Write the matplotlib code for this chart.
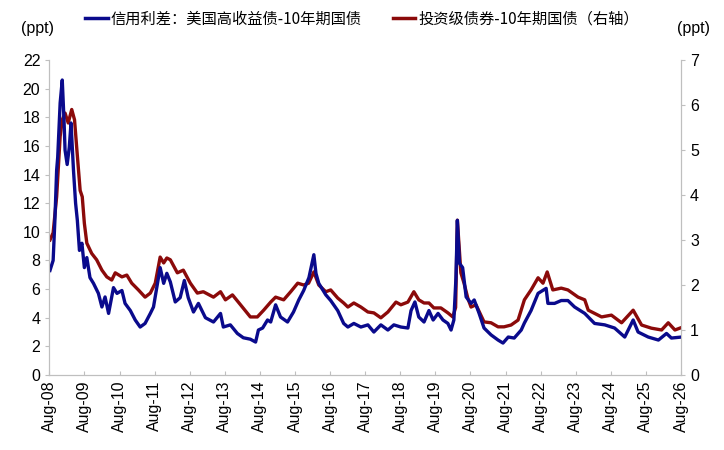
import numpy as np
import matplotlib
matplotlib.use("Agg")
from matplotlib import pyplot as plt
from matplotlib.lines import Line2D

plt.rcParams['font.family'] = ['Liberation Sans', 'Noto Sans CJK SC', 'DejaVu Sans']

# 高收益债利差 (左轴, ppt): 时间(年) / 数值
hy_t = [2008.60, 2008.69, 2008.74, 2008.79, 2008.82, 2008.89, 2008.95, 2009.00, 2009.03,
        2009.09, 2009.15, 2009.20, 2009.27, 2009.33, 2009.38, 2009.44, 2009.51, 2009.58,
        2009.65, 2009.74, 2009.84, 2009.98, 2010.08, 2010.17, 2010.27, 2010.41, 2010.51,
        2010.65, 2010.74, 2010.89, 2011.03, 2011.17, 2011.31, 2011.46, 2011.55, 2011.74,
        2011.84, 2011.93, 2012.03, 2012.17, 2012.31, 2012.43, 2012.54, 2012.69, 2012.83,
        2013.03, 2013.26, 2013.46, 2013.54, 2013.74, 2013.94, 2014.11, 2014.31, 2014.46,
        2014.54, 2014.66, 2014.80, 2014.89, 2015.03, 2015.17, 2015.37, 2015.54, 2015.69,
        2015.83, 2015.98, 2016.12, 2016.18, 2016.26, 2016.46, 2016.60, 2016.80, 2016.97,
        2017.09, 2017.26, 2017.46, 2017.66, 2017.83, 2018.03, 2018.23, 2018.40, 2018.60,
        2018.80, 2018.89, 2019.00, 2019.11, 2019.26, 2019.40, 2019.52, 2019.66, 2019.80,
        2019.94, 2020.03, 2020.11, 2020.17, 2020.21, 2020.27, 2020.36, 2020.46, 2020.60,
        2020.69, 2020.83, 2020.97, 2021.17, 2021.37, 2021.51, 2021.66, 2021.83, 2022.03,
        2022.12, 2022.31, 2022.51, 2022.74, 2022.79, 2022.98, 2023.17, 2023.36, 2023.55,
        2023.84, 2024.12, 2024.41, 2024.69, 2024.98, 2025.22, 2025.36, 2025.65, 2025.94,
        2026.17, 2026.31, 2026.60]
hy_v = [7.3, 8.0, 10.8, 14.3, 15.2, 19.0, 20.6, 17.8, 15.7,
        14.7, 15.9, 17.6, 14.3, 12.0, 10.8, 8.7, 9.2, 7.5,
        8.2, 6.8, 6.4, 5.7, 4.75, 5.45, 4.3, 6.1, 5.7,
        5.9, 5.0, 4.5, 3.84, 3.35, 3.6, 4.3, 4.75, 7.5,
        6.4, 7.1, 6.5, 5.1, 5.4, 6.6, 5.4, 4.4, 5.0,
        4.0, 3.7, 4.3, 3.35, 3.5, 2.9, 2.6, 2.5, 2.3,
        3.14, 3.28, 3.84, 3.7, 4.9, 4.05, 3.7, 4.4, 5.24,
        5.9, 6.8, 8.4, 7.1, 6.4, 5.6, 5.2, 4.5, 3.6,
        3.35, 3.6, 3.35, 3.5, 3.0, 3.5, 3.14, 3.5, 3.35,
        3.28, 4.5, 5.1, 4.05, 3.7, 4.5, 3.84, 4.3, 3.84,
        3.6, 3.14, 3.84, 6.8, 10.8, 7.8, 7.5, 5.45, 5.0,
        5.24, 4.3, 3.28, 2.8, 2.44, 2.23, 2.65, 2.58, 3.14,
        3.63, 4.5, 5.7, 6.05, 5.0, 5.0, 5.2, 5.2, 4.75,
        4.3, 3.6, 3.5, 3.28, 2.65, 3.84, 3.0, 2.65, 2.44,
        2.9, 2.58, 2.65]

# 投资级债券利差 (右轴, ppt)
ig_t = [2008.60, 2008.69, 2008.79, 2008.89, 2008.95, 2009.03, 2009.12, 2009.22, 2009.30,
        2009.36, 2009.46, 2009.52, 2009.58, 2009.65, 2009.79, 2009.93, 2010.08, 2010.22,
        2010.36, 2010.46, 2010.65, 2010.79, 2010.93, 2011.12, 2011.31, 2011.46, 2011.60,
        2011.74, 2011.84, 2011.93, 2012.03, 2012.23, 2012.40, 2012.60, 2012.80, 2012.97,
        2013.26, 2013.46, 2013.60, 2013.80, 2014.03, 2014.31, 2014.51, 2014.69, 2014.89,
        2015.03, 2015.26, 2015.46, 2015.66, 2015.83, 2015.97, 2016.12, 2016.26, 2016.46,
        2016.60, 2016.80, 2016.97, 2017.09, 2017.26, 2017.46, 2017.66, 2017.83, 2018.03,
        2018.23, 2018.46, 2018.60, 2018.80, 2018.97, 2019.11, 2019.26, 2019.40, 2019.54,
        2019.74, 2019.94, 2020.08, 2020.16, 2020.21, 2020.31, 2020.40, 2020.51, 2020.60,
        2020.74, 2020.97, 2021.17, 2021.37, 2021.54, 2021.74, 2021.94, 2022.12, 2022.31,
        2022.51, 2022.65, 2022.77, 2022.93, 2023.17, 2023.36, 2023.65, 2023.84, 2023.94,
        2024.32, 2024.60, 2024.89, 2025.22, 2025.46, 2025.74, 2026.03, 2026.22, 2026.41,
        2026.65]
ig_v = [3.0, 3.16, 3.96, 5.3, 5.67, 5.82, 5.6, 5.9, 5.67,
        5.07, 4.1, 3.96, 3.37, 2.93, 2.7, 2.56, 2.33, 2.18,
        2.11, 2.27, 2.18, 2.22, 2.04, 1.89, 1.73, 1.82, 2.04,
        2.62, 2.49, 2.6, 2.56, 2.27, 2.33, 2.04, 1.82, 1.85,
        1.73, 1.85, 1.67, 1.78, 1.56, 1.29, 1.29, 1.44, 1.62,
        1.73, 1.67, 1.85, 2.04, 2.0, 2.04, 2.29, 2.0, 1.85,
        1.89, 1.71, 1.6, 1.51, 1.6, 1.51, 1.4, 1.38, 1.27,
        1.4, 1.62, 1.56, 1.62, 1.85, 1.67, 1.6, 1.6, 1.49,
        1.49, 1.38, 1.29, 1.5, 3.44, 2.27, 2.04, 1.7, 1.51,
        1.56, 1.18, 1.16, 1.07, 1.07, 1.11, 1.22, 1.67, 1.89,
        2.16, 2.04, 2.29, 1.89, 1.93, 1.89, 1.73, 1.67, 1.44,
        1.29, 1.33, 1.16, 1.44, 1.11, 1.04, 1.0, 1.16, 1.0,
        1.07]

tick_years = list(range(2008, 2027))
tick_labels = ["Aug-%02d" % (y % 100) for y in tick_years]

hy_label = "信用利差：美国高收益债-10年期国债"
ig_label = "投资级债券-10年期国债（右轴）"

blue = "#0A0A8C"
red = "#8B0A0A"
grey = "#BFBFBF"

fig = plt.figure(figsize=(7.24, 4.5), dpi=100)
ax = fig.add_axes([0.0682, 0.1667, 0.8724, 0.7])
ax2 = ax.twinx()

ax.plot(np.array(hy_t), hy_v, color=blue, lw=2.4, solid_joinstyle='round')
ax2.plot(np.array(ig_t), ig_v, color=red, lw=2.4, solid_joinstyle='round')
ax.set_zorder(ax2.get_zorder() + 1)
ax.patch.set_visible(False)

ax.set_xlim(2008.583, 2026.583)
ax.set_ylim(0, 22)
ax2.set_ylim(0, 7)
ax.set_yticks(range(0, 23, 2))
ax2.set_yticks(range(0, 8))
ax.set_xticks([y + 0.583 for y in tick_years])
ax.set_xticklabels(tick_labels, rotation=90, fontsize=11.5)

for a in (ax, ax2):
    a.spines['top'].set_visible(False)
    for s in ('left', 'right', 'bottom'):
        a.spines[s].set_color(grey)
    a.tick_params(axis='y', colors=grey, labelcolor='black', labelsize=11.5, length=3)
ax.tick_params(axis='x', direction='in', colors=grey, labelcolor='black', length=3, pad=4)

fig.text(0.029, 0.937, "(ppt)", fontsize=11.5, va='center', ha='left')
fig.text(0.98, 0.937, "(ppt)", fontsize=11.5, va='center', ha='right')

handles = [Line2D([], [], color=blue, lw=2.5), Line2D([], [], color=red, lw=2.5)]
fig.legend(handles, [hy_label, ig_label], loc='center', bbox_to_anchor=(0.5, 0.958),
           ncol=2, frameon=False, handlelength=1.5, handletextpad=0.2,
           columnspacing=2.0, prop={'family': ['Noto Sans CJK SC', 'DejaVu Sans'], 'size': 11})

plt.savefig("out.png")
